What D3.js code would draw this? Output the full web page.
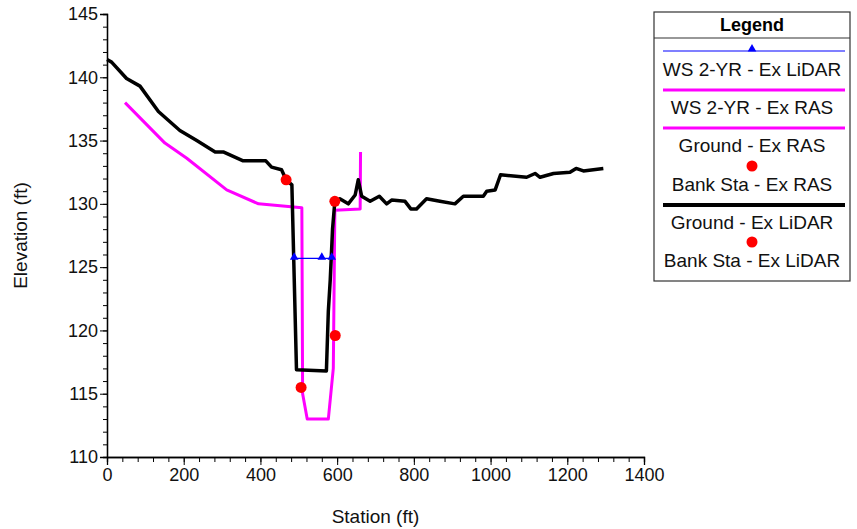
<!DOCTYPE html>
<html>
<head>
<meta charset="utf-8">
<script src="https://cdn.jsdelivr.net/npm/d3@7"></script>
<style>
  body { margin: 0; background: #fff; }
  svg { font-family: "Liberation Sans", Arial, sans-serif; }
</style>
</head>
<body>
<div id="chart"></div>
<script>
// cross-section data
const groundLidarSta = [0, 12, 51, 86, 134, 190, 234, 282, 303, 355, 414, 429, 455, 467, 482, 494, 572, 577, 582, 588, 594, 607, 629, 647, 655, 664, 686, 710, 729, 742, 777, 792, 807, 833, 868, 907, 929, 981, 990, 1012, 1026, 1094, 1116, 1129, 1164, 1207, 1223, 1242, 1294];
const groundLidarElev = [141.4, 141.2, 139.9, 139.3, 137.3, 135.8, 135.0, 134.1, 134.1, 133.4, 133.4, 132.9, 132.7, 131.9, 131.5, 116.9, 116.8, 121.5, 124.0, 128.0, 130.2, 130.4, 130.0, 130.7, 131.9, 130.6, 130.2, 130.6, 130.0, 130.3, 130.2, 129.6, 129.6, 130.4, 130.2, 130.0, 130.6, 130.6, 131.0, 131.1, 132.3, 132.1, 132.4, 132.1, 132.4, 132.5, 132.8, 132.6, 132.8];

const groundRasSta = [47, 151, 208, 312, 395, 508, 510, 522, 577, 590, 594, 660, 661];
const groundRasElev = [138.0, 134.8, 133.6, 131.1, 130.0, 129.7, 115.0, 113.0, 113.0, 117.0, 129.5, 129.6, 134.1];

const wsLidarSta = [488, 560, 586];
const wsLidarElev = [125.7, 125.7, 125.7];

const wsRasSta = [];
const wsRasElev = [];

const bankLidarSta = [467, 594];
const bankLidarElev = [131.9, 130.2];
const bankRasSta = [506, 595];
const bankRasElev = [115.5, 119.6];

const xTicks = [0, 200, 400, 600, 800, 1000, 1200, 1400];
const yTicks = [110, 115, 120, 125, 130, 135, 140, 145];

const legendLabels = ["WS 2-YR - Ex LiDAR", "WS 2-YR - Ex RAS", "Ground - Ex RAS",
                      "Bank Sta - Ex RAS", "Ground - Ex LiDAR", "Bank Sta - Ex LiDAR"];

const W = 857, H = 529;
const margin = { left: 107, top: 14, right: 213, bottom: 72 };

const svg = d3.select("#chart").append("svg")
    .attr("width", W).attr("height", H);

const x = d3.scaleLinear().domain([0, 1400]).range([margin.left, W - margin.right]);
const y = d3.scaleLinear().domain([110, 145]).range([H - margin.bottom, margin.top]);

const zip = (a, b) => a.map((v, i) => [v, b[i]]);

// axes: minor ticks first, then majors with labels
const xAxisG = svg.append("g").attr("transform", `translate(0,${y(110)})`);
xAxisG.append("g")
    .call(d3.axisBottom(x).tickValues(d3.range(0, 1401, 40)).tickSize(5).tickFormat(""));
xAxisG.append("g")
    .call(d3.axisBottom(x).tickValues(xTicks).tickSize(8).tickPadding(3).tickFormat(d3.format("d")));

const yAxisG = svg.append("g").attr("transform", `translate(${x(0)},0)`);
yAxisG.append("g")
    .call(d3.axisLeft(y).tickValues(d3.range(110, 145.1, 1)).tickSize(4).tickFormat(""));
yAxisG.append("g")
    .call(d3.axisLeft(y).tickValues(yTicks).tickSize(7).tickPadding(2).tickFormat(d3.format("d")));

svg.selectAll(".domain").attr("stroke", "#000").attr("stroke-width", 1.3);
svg.selectAll(".tick line").attr("stroke", "#000");
svg.selectAll(".tick text").attr("fill", "#111").style("font-size", "18px");

svg.append("text")
    .attr("x", x(700)).attr("y", 523)
    .attr("text-anchor", "middle")
    .style("font-size", "19px").attr("fill", "#111")
    .text("Station (ft)");

svg.append("text")
    .attr("transform", `translate(27,${y(127.5)}) rotate(-90)`)
    .attr("text-anchor", "middle")
    .style("font-size", "19px").attr("fill", "#111")
    .text("Elevation (ft)");

const line = d3.line().x(d => x(d[0])).y(d => y(d[1]));

// Ground - Ex RAS
svg.append("path").datum(zip(groundRasSta, groundRasElev))
    .attr("fill", "none").attr("stroke", "#ff00ff").attr("stroke-width", 3)
    .attr("stroke-linejoin", "round").attr("d", line);

// WS 2-YR - Ex RAS (nothing drawn in the section)
svg.append("path").datum(zip(wsRasSta, wsRasElev))
    .attr("fill", "none").attr("stroke", "#ff00ff").attr("stroke-width", 3)
    .attr("d", line);

// Ground - Ex LiDAR
svg.append("path").datum(zip(groundLidarSta, groundLidarElev))
    .attr("fill", "none").attr("stroke", "#000").attr("stroke-width", 3.5)
    .attr("stroke-linejoin", "round").attr("d", line);

// WS 2-YR - Ex LiDAR
const wsData = zip(wsLidarSta, wsLidarElev);
svg.append("path").datum(wsData)
    .attr("fill", "none").attr("stroke", "#0000ff").attr("stroke-width", 1.2)
    .attr("d", line);
const tri = d3.symbol().type(d3.symbolTriangle).size(32);
svg.selectAll(".wsmark").data(wsData).enter().append("path")
    .attr("transform", d => `translate(${x(d[0])},${y(d[1]) - 1})`)
    .attr("d", tri).attr("fill", "#0000ff");

// bank stations
svg.selectAll(".bank").data(zip(bankRasSta, bankRasElev).concat(zip(bankLidarSta, bankLidarElev)))
    .enter().append("circle")
    .attr("cx", d => x(d[0])).attr("cy", d => y(d[1])).attr("r", 5.5)
    .attr("fill", "#ff0000");

// legend
const lg = svg.append("g");
const lx0 = 654, lx1 = 850, lTop = 12, lBottom = 281;
const lcx = (lx0 + lx1) / 2;
lg.append("rect").attr("x", lx0).attr("y", lTop).attr("width", lx1 - lx0).attr("height", lBottom - lTop)
    .attr("fill", "#fff").attr("stroke", "#333").attr("stroke-width", 1.2);
lg.append("line").attr("x1", lx0).attr("x2", lx1).attr("y1", 38).attr("y2", 38)
    .attr("stroke", "#333").attr("stroke-width", 1.2);
lg.append("text").attr("x", lcx).attr("y", 31).attr("text-anchor", "middle")
    .style("font-size", "18px").style("font-weight", "bold").text("Legend");

const symY = [51, 90, 128, 166, 205, 242];
const labY = [69, 107, 145, 184, 222, 260];
const symKind = [
    { type: "line", color: "#0000ff", w: 1.2, marker: "tri" },
    { type: "line", color: "#ff00ff", w: 3 },
    { type: "line", color: "#ff00ff", w: 3 },
    { type: "dot" },
    { type: "line", color: "#000", w: 4 },
    { type: "dot" }
];
symKind.forEach((s, i) => {
    if (s.type === "line") {
        lg.append("line").attr("x1", 663).attr("x2", 845).attr("y1", symY[i]).attr("y2", symY[i])
            .attr("stroke", s.color).attr("stroke-width", s.w);
        if (s.marker === "tri") {
            lg.append("path").attr("transform", `translate(${lcx},${symY[i] - 2})`)
                .attr("d", tri).attr("fill", "#0000ff");
        }
    } else {
        lg.append("circle").attr("cx", lcx).attr("cy", symY[i]).attr("r", 5.5).attr("fill", "#ff0000");
    }
    lg.append("text").attr("x", lcx).attr("y", labY[i] + 7).attr("text-anchor", "middle")
        .style("font-size", "19px").attr("fill", "#111").text(legendLabels[i]);
});
</script>
</body>
</html>
